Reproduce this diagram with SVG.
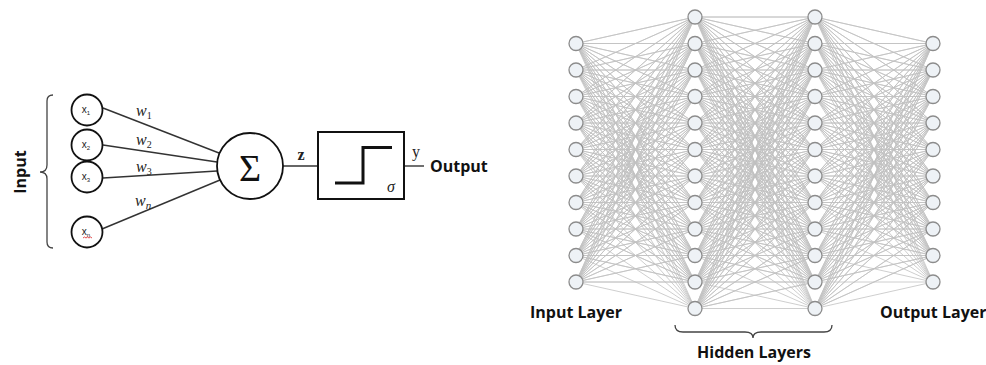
<svg xmlns="http://www.w3.org/2000/svg" width="986" height="365" viewBox="0 0 986 365">
<style>
.edge{fill:none;stroke:#c2c2c2;stroke-width:0.8;stroke-linejoin:round}
.nn{fill:#eef2f6;stroke:#8c8c8c;stroke-width:1.3}
.inp{fill:#fff;stroke:#111;stroke-width:1.8}
.wire{fill:none;stroke:#333;stroke-width:1.4}
.brace{fill:none;stroke:#444;stroke-width:1.3}
.lbl{font-family:"Open Sans","Liberation Sans",sans-serif;font-weight:bold;font-size:16px;fill:#111}
.xs{font-family:"Liberation Sans",sans-serif;font-size:10px;fill:#222}
.math{font-family:"Liberation Serif",serif;font-size:16px;fill:#222}
.sub{font-style:normal;font-size:10px}
</style>
<rect width="986" height="365" fill="#fff"/>

<!-- Perceptron -->
<g id="input-brace">
<path class="brace" d="M53 95 Q47 95 47 101 L47 165 Q47 172 40 172 Q47 172 47 179 L47 242 Q47 248 53 248"/>
<text class="lbl" transform="translate(26,172) rotate(-90)" text-anchor="middle">Input</text>
</g>
<g id="perceptron-wires">
<path class="wire" d="M103 108 L219 153"/>
<path class="wire" d="M103 145 L217 162"/>
<path class="wire" d="M103 178 L217 171"/>
<path class="wire" d="M102 229 L220 180"/>
<path class="wire" d="M283 166 L318 166"/>
<path class="wire" d="M404 166 L424 166"/>
<text class="math" font-style="italic" x="136" y="116">w<tspan class="sub" dy="3">1</tspan></text>
<text class="math" font-style="italic" x="136" y="145">w<tspan class="sub" dy="3">2</tspan></text>
<text class="math" font-style="italic" x="136" y="172">w<tspan class="sub" dy="3">3</tspan></text>
<text class="math" font-style="italic" x="135" y="206">w<tspan font-size="11" dy="3">n</tspan></text>
<text class="math" font-weight="bold" x="301" y="160" text-anchor="middle">z</text>
<text class="math" x="416" y="157" text-anchor="middle">y</text>
</g>
<g id="x1"><circle class="inp" cx="87" cy="110" r="15.5"/><text class="xs" x="86" y="113" text-anchor="middle">x<tspan font-size="6" dy="2">1</tspan></text></g>
<g id="x2"><circle class="inp" cx="87" cy="145" r="15.5"/><text class="xs" x="86" y="148" text-anchor="middle">x<tspan font-size="6" dy="2">2</tspan></text></g>
<g id="x3"><circle class="inp" cx="87" cy="177" r="15.5"/><text class="xs" x="86" y="180" text-anchor="middle">x<tspan font-size="6" dy="2">3</tspan></text></g>
<g id="xn"><circle class="inp" cx="87" cy="232" r="15.5"/><text class="xs" x="86" y="235" text-anchor="middle">x<tspan font-size="6" dy="2">n</tspan></text><path d="M83 238 l1.5 -1 1.5 1 1.5 -1 1.5 1 1.5 -1 1.5 1" fill="none" stroke="#d22" stroke-width="0.8"/></g>
<g id="sum"><circle cx="250" cy="166" r="33" fill="#fff" stroke="#111" stroke-width="1.8"/><text x="250" y="181" text-anchor="middle" font-family="Liberation Serif,serif" font-size="38" fill="#111">Σ</text></g>
<g id="activation"><rect x="318" y="132" width="86" height="67" fill="#fff" stroke="#111" stroke-width="2"/><path d="M335 183 L363 183 L363 147.5 L392 147.5" fill="none" stroke="#111" stroke-width="3"/><text class="math" font-style="italic" x="391" y="192" text-anchor="middle">σ</text></g>
<g id="output-label"><text class="lbl" x="430" y="172">Output</text></g>

<!-- Neural network connectors -->
<g id="connectors">
<path class="edge" d="M576 43.5 695 17 576 43.5 695 43.5 576 43.5 695 70 576 43.5 695 96.5 576 43.5 695 123 576 43.5 695 149.5 576 43.5 695 176 576 43.5 695 202.5 576 43.5 695 229 576 43.5 695 255.5 576 43.5 695 282 576 43.5 695 308.5"/>
<path class="edge" d="M576 70 695 17 576 70 695 43.5 576 70 695 70 576 70 695 96.5 576 70 695 123 576 70 695 149.5 576 70 695 176 576 70 695 202.5 576 70 695 229 576 70 695 255.5 576 70 695 282 576 70 695 308.5"/>
<path class="edge" d="M576 96.5 695 17 576 96.5 695 43.5 576 96.5 695 70 576 96.5 695 96.5 576 96.5 695 123 576 96.5 695 149.5 576 96.5 695 176 576 96.5 695 202.5 576 96.5 695 229 576 96.5 695 255.5 576 96.5 695 282 576 96.5 695 308.5"/>
<path class="edge" d="M576 123 695 17 576 123 695 43.5 576 123 695 70 576 123 695 96.5 576 123 695 123 576 123 695 149.5 576 123 695 176 576 123 695 202.5 576 123 695 229 576 123 695 255.5 576 123 695 282 576 123 695 308.5"/>
<path class="edge" d="M576 149.5 695 17 576 149.5 695 43.5 576 149.5 695 70 576 149.5 695 96.5 576 149.5 695 123 576 149.5 695 149.5 576 149.5 695 176 576 149.5 695 202.5 576 149.5 695 229 576 149.5 695 255.5 576 149.5 695 282 576 149.5 695 308.5"/>
<path class="edge" d="M576 176 695 17 576 176 695 43.5 576 176 695 70 576 176 695 96.5 576 176 695 123 576 176 695 149.5 576 176 695 176 576 176 695 202.5 576 176 695 229 576 176 695 255.5 576 176 695 282 576 176 695 308.5"/>
<path class="edge" d="M576 202.5 695 17 576 202.5 695 43.5 576 202.5 695 70 576 202.5 695 96.5 576 202.5 695 123 576 202.5 695 149.5 576 202.5 695 176 576 202.5 695 202.5 576 202.5 695 229 576 202.5 695 255.5 576 202.5 695 282 576 202.5 695 308.5"/>
<path class="edge" d="M576 229 695 17 576 229 695 43.5 576 229 695 70 576 229 695 96.5 576 229 695 123 576 229 695 149.5 576 229 695 176 576 229 695 202.5 576 229 695 229 576 229 695 255.5 576 229 695 282 576 229 695 308.5"/>
<path class="edge" d="M576 255.5 695 17 576 255.5 695 43.5 576 255.5 695 70 576 255.5 695 96.5 576 255.5 695 123 576 255.5 695 149.5 576 255.5 695 176 576 255.5 695 202.5 576 255.5 695 229 576 255.5 695 255.5 576 255.5 695 282 576 255.5 695 308.5"/>
<path class="edge" d="M576 282 695 17 576 282 695 43.5 576 282 695 70 576 282 695 96.5 576 282 695 123 576 282 695 149.5 576 282 695 176 576 282 695 202.5 576 282 695 229 576 282 695 255.5 576 282 695 282 576 282 695 308.5"/>

<path class="edge" d="M695 17 815 17 695 17 815 43.5 695 17 815 70 695 17 815 96.5 695 17 815 123 695 17 815 149.5 695 17 815 176 695 17 815 202.5 695 17 815 229 695 17 815 255.5 695 17 815 282 695 17 815 308.5"/>
<path class="edge" d="M695 43.5 815 17 695 43.5 815 43.5 695 43.5 815 70 695 43.5 815 96.5 695 43.5 815 123 695 43.5 815 149.5 695 43.5 815 176 695 43.5 815 202.5 695 43.5 815 229 695 43.5 815 255.5 695 43.5 815 282 695 43.5 815 308.5"/>
<path class="edge" d="M695 70 815 17 695 70 815 43.5 695 70 815 70 695 70 815 96.5 695 70 815 123 695 70 815 149.5 695 70 815 176 695 70 815 202.5 695 70 815 229 695 70 815 255.5 695 70 815 282 695 70 815 308.5"/>
<path class="edge" d="M695 96.5 815 17 695 96.5 815 43.5 695 96.5 815 70 695 96.5 815 96.5 695 96.5 815 123 695 96.5 815 149.5 695 96.5 815 176 695 96.5 815 202.5 695 96.5 815 229 695 96.5 815 255.5 695 96.5 815 282 695 96.5 815 308.5"/>
<path class="edge" d="M695 123 815 17 695 123 815 43.5 695 123 815 70 695 123 815 96.5 695 123 815 123 695 123 815 149.5 695 123 815 176 695 123 815 202.5 695 123 815 229 695 123 815 255.5 695 123 815 282 695 123 815 308.5"/>
<path class="edge" d="M695 149.5 815 17 695 149.5 815 43.5 695 149.5 815 70 695 149.5 815 96.5 695 149.5 815 123 695 149.5 815 149.5 695 149.5 815 176 695 149.5 815 202.5 695 149.5 815 229 695 149.5 815 255.5 695 149.5 815 282 695 149.5 815 308.5"/>
<path class="edge" d="M695 176 815 17 695 176 815 43.5 695 176 815 70 695 176 815 96.5 695 176 815 123 695 176 815 149.5 695 176 815 176 695 176 815 202.5 695 176 815 229 695 176 815 255.5 695 176 815 282 695 176 815 308.5"/>
<path class="edge" d="M695 202.5 815 17 695 202.5 815 43.5 695 202.5 815 70 695 202.5 815 96.5 695 202.5 815 123 695 202.5 815 149.5 695 202.5 815 176 695 202.5 815 202.5 695 202.5 815 229 695 202.5 815 255.5 695 202.5 815 282 695 202.5 815 308.5"/>
<path class="edge" d="M695 229 815 17 695 229 815 43.5 695 229 815 70 695 229 815 96.5 695 229 815 123 695 229 815 149.5 695 229 815 176 695 229 815 202.5 695 229 815 229 695 229 815 255.5 695 229 815 282 695 229 815 308.5"/>
<path class="edge" d="M695 255.5 815 17 695 255.5 815 43.5 695 255.5 815 70 695 255.5 815 96.5 695 255.5 815 123 695 255.5 815 149.5 695 255.5 815 176 695 255.5 815 202.5 695 255.5 815 229 695 255.5 815 255.5 695 255.5 815 282 695 255.5 815 308.5"/>
<path class="edge" d="M695 282 815 17 695 282 815 43.5 695 282 815 70 695 282 815 96.5 695 282 815 123 695 282 815 149.5 695 282 815 176 695 282 815 202.5 695 282 815 229 695 282 815 255.5 695 282 815 282 695 282 815 308.5"/>
<path class="edge" d="M695 308.5 815 17 695 308.5 815 43.5 695 308.5 815 70 695 308.5 815 96.5 695 308.5 815 123 695 308.5 815 149.5 695 308.5 815 176 695 308.5 815 202.5 695 308.5 815 229 695 308.5 815 255.5 695 308.5 815 282 695 308.5 815 308.5"/>

<path class="edge" d="M815 17 933 43.5 815 17 933 70 815 17 933 96.5 815 17 933 123 815 17 933 149.5 815 17 933 176 815 17 933 202.5 815 17 933 229 815 17 933 255.5 815 17 933 282"/>
<path class="edge" d="M815 43.5 933 43.5 815 43.5 933 70 815 43.5 933 96.5 815 43.5 933 123 815 43.5 933 149.5 815 43.5 933 176 815 43.5 933 202.5 815 43.5 933 229 815 43.5 933 255.5 815 43.5 933 282"/>
<path class="edge" d="M815 70 933 43.5 815 70 933 70 815 70 933 96.5 815 70 933 123 815 70 933 149.5 815 70 933 176 815 70 933 202.5 815 70 933 229 815 70 933 255.5 815 70 933 282"/>
<path class="edge" d="M815 96.5 933 43.5 815 96.5 933 70 815 96.5 933 96.5 815 96.5 933 123 815 96.5 933 149.5 815 96.5 933 176 815 96.5 933 202.5 815 96.5 933 229 815 96.5 933 255.5 815 96.5 933 282"/>
<path class="edge" d="M815 123 933 43.5 815 123 933 70 815 123 933 96.5 815 123 933 123 815 123 933 149.5 815 123 933 176 815 123 933 202.5 815 123 933 229 815 123 933 255.5 815 123 933 282"/>
<path class="edge" d="M815 149.5 933 43.5 815 149.5 933 70 815 149.5 933 96.5 815 149.5 933 123 815 149.5 933 149.5 815 149.5 933 176 815 149.5 933 202.5 815 149.5 933 229 815 149.5 933 255.5 815 149.5 933 282"/>
<path class="edge" d="M815 176 933 43.5 815 176 933 70 815 176 933 96.5 815 176 933 123 815 176 933 149.5 815 176 933 176 815 176 933 202.5 815 176 933 229 815 176 933 255.5 815 176 933 282"/>
<path class="edge" d="M815 202.5 933 43.5 815 202.5 933 70 815 202.5 933 96.5 815 202.5 933 123 815 202.5 933 149.5 815 202.5 933 176 815 202.5 933 202.5 815 202.5 933 229 815 202.5 933 255.5 815 202.5 933 282"/>
<path class="edge" d="M815 229 933 43.5 815 229 933 70 815 229 933 96.5 815 229 933 123 815 229 933 149.5 815 229 933 176 815 229 933 202.5 815 229 933 229 815 229 933 255.5 815 229 933 282"/>
<path class="edge" d="M815 255.5 933 43.5 815 255.5 933 70 815 255.5 933 96.5 815 255.5 933 123 815 255.5 933 149.5 815 255.5 933 176 815 255.5 933 202.5 815 255.5 933 229 815 255.5 933 255.5 815 255.5 933 282"/>
<path class="edge" d="M815 282 933 43.5 815 282 933 70 815 282 933 96.5 815 282 933 123 815 282 933 149.5 815 282 933 176 815 282 933 202.5 815 282 933 229 815 282 933 255.5 815 282 933 282"/>
<path class="edge" d="M815 308.5 933 43.5 815 308.5 933 70 815 308.5 933 96.5 815 308.5 933 123 815 308.5 933 149.5 815 308.5 933 176 815 308.5 933 202.5 815 308.5 933 229 815 308.5 933 255.5 815 308.5 933 282"/>
</g>

<!-- Neural network nodes -->
<g id="input-layer">
<circle class="nn" cx="576" cy="43.5" r="7"/><circle class="nn" cx="576" cy="70" r="7"/><circle class="nn" cx="576" cy="96.5" r="7"/><circle class="nn" cx="576" cy="123" r="7"/><circle class="nn" cx="576" cy="149.5" r="7"/><circle class="nn" cx="576" cy="176" r="7"/><circle class="nn" cx="576" cy="202.5" r="7"/><circle class="nn" cx="576" cy="229" r="7"/><circle class="nn" cx="576" cy="255.5" r="7"/><circle class="nn" cx="576" cy="282" r="7"/>
<text class="lbl" x="530" y="318">Input Layer</text>
</g>
<g id="hidden-layer-1">
<circle class="nn" cx="695" cy="17" r="7"/><circle class="nn" cx="695" cy="43.5" r="7"/><circle class="nn" cx="695" cy="70" r="7"/><circle class="nn" cx="695" cy="96.5" r="7"/><circle class="nn" cx="695" cy="123" r="7"/><circle class="nn" cx="695" cy="149.5" r="7"/><circle class="nn" cx="695" cy="176" r="7"/><circle class="nn" cx="695" cy="202.5" r="7"/><circle class="nn" cx="695" cy="229" r="7"/><circle class="nn" cx="695" cy="255.5" r="7"/><circle class="nn" cx="695" cy="282" r="7"/><circle class="nn" cx="695" cy="308.5" r="7"/>
</g>
<g id="hidden-layer-2">
<circle class="nn" cx="815" cy="17" r="7"/><circle class="nn" cx="815" cy="43.5" r="7"/><circle class="nn" cx="815" cy="70" r="7"/><circle class="nn" cx="815" cy="96.5" r="7"/><circle class="nn" cx="815" cy="123" r="7"/><circle class="nn" cx="815" cy="149.5" r="7"/><circle class="nn" cx="815" cy="176" r="7"/><circle class="nn" cx="815" cy="202.5" r="7"/><circle class="nn" cx="815" cy="229" r="7"/><circle class="nn" cx="815" cy="255.5" r="7"/><circle class="nn" cx="815" cy="282" r="7"/><circle class="nn" cx="815" cy="308.5" r="7"/>
</g>
<g id="output-layer">
<circle class="nn" cx="933" cy="43.5" r="7"/><circle class="nn" cx="933" cy="70" r="7"/><circle class="nn" cx="933" cy="96.5" r="7"/><circle class="nn" cx="933" cy="123" r="7"/><circle class="nn" cx="933" cy="149.5" r="7"/><circle class="nn" cx="933" cy="176" r="7"/><circle class="nn" cx="933" cy="202.5" r="7"/><circle class="nn" cx="933" cy="229" r="7"/><circle class="nn" cx="933" cy="255.5" r="7"/><circle class="nn" cx="933" cy="282" r="7"/>
<text class="lbl" x="880" y="318">Output Layer</text>
</g>
<g id="hidden-brace">
<path class="brace" d="M675 325 Q675 332 683 332 L745 332 Q753 332 753 338 Q753 332 761 332 L824 332 Q832 332 832 325"/>
<text class="lbl" x="697" y="358">Hidden Layers</text>
</g>
</svg>
